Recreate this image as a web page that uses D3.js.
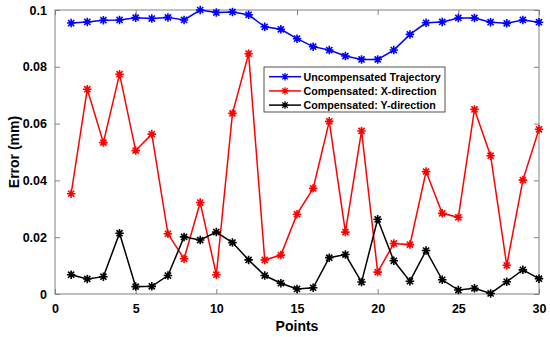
<!DOCTYPE html>
<html>
<head>
<meta charset="utf-8">
<script src="https://cdn.jsdelivr.net/npm/d3@7"></script>
<style>
  body { margin: 0; background: #fff; }
  svg { display: block; font-family: "Liberation Sans", Arial, sans-serif; font-weight: bold; }
</style>
</head>
<body>
<svg id="chart" width="550" height="337"></svg>
<script>
//
// Data
//
var points = d3.range(1, 31);

var uncompensated = [0.0954, 0.0958, 0.0964, 0.0965, 0.0973, 0.0970, 0.0974, 0.0965, 0.1000, 0.0991,
                     0.0993, 0.0983, 0.0941, 0.0932, 0.0899, 0.0871, 0.0859, 0.0838, 0.0826, 0.0826,
                     0.0859, 0.0914, 0.0955, 0.0958, 0.0972, 0.0972, 0.0957, 0.0953, 0.0965, 0.0957];

var compX = [0.0353, 0.0721, 0.0533, 0.0774, 0.0505, 0.0563, 0.0212, 0.0124, 0.0322, 0.0068,
             0.0636, 0.0846, 0.0120, 0.0137, 0.0281, 0.0372, 0.0608, 0.0218, 0.0574, 0.0077,
             0.0178, 0.0174, 0.0431, 0.0284, 0.0270, 0.0650, 0.0487, 0.0101, 0.0401, 0.0580];

var compY = [0.0068, 0.0053, 0.0061, 0.0214, 0.0026, 0.0027, 0.0065, 0.0201, 0.0190, 0.0218,
             0.0181, 0.0120, 0.0065, 0.0038, 0.0018, 0.0022, 0.0128, 0.0139, 0.0042, 0.0263,
             0.0117, 0.0045, 0.0153, 0.0050, 0.0014, 0.0020, 0.0002, 0.0043, 0.0085, 0.0054];

var seriesNames = ['Uncompensated Trajectory', 'Compensated: X-direction', 'Compensated: Y-direction'];
var seriesColors = ['#0000ff', '#ff0000', '#000000'];

var xTicks = [0, 5, 10, 15, 20, 25, 30];
var yTicks = [0, 0.02, 0.04, 0.06, 0.08, 0.1];

//
// Layout
//
var margin = {top: 10, right: 11, bottom: 43, left: 55};
var width = 550 - margin.left - margin.right,
    height = 337 - margin.top - margin.bottom;
var axisColor = '#808080';

var svg = d3.select('#chart');
var g = svg.append('g').attr('transform', 'translate(' + margin.left + ',' + margin.top + ')');

var x = d3.scaleLinear().domain([0, 30]).range([0, width]);
var y = d3.scaleLinear().domain([0, 0.1]).range([height, 0]);

// MATLAB style '*' marker: plus + cross
var star = {
    draw: function (context, size) {
        var r = Math.sqrt(size) / 2, d = r * 0.72;
        context.moveTo(-r, 0); context.lineTo(r, 0);
        context.moveTo(0, -r); context.lineTo(0, r);
        context.moveTo(-d, -d); context.lineTo(d, d);
        context.moveTo(-d, d); context.lineTo(d, -d);
    }
};
var marker = d3.symbol().type(star).size(72);

//
// Axes (box with inward ticks)
//
function styleAxis(sel, labels) {
    sel.select('.domain').remove();
    sel.selectAll('.tick line').attr('stroke', axisColor);
    sel.selectAll('.tick text')
        .attr('fill', labels ? '#000' : 'none')
        .style('font-size', '12.5px')
        .style('font-weight', 'bold');
}

var fmtY = function (d) { return d === 0 ? '0' : d3.format('')(+d.toFixed(2)); };

g.append('g').attr('transform', 'translate(0,' + height + ')')
    .call(d3.axisBottom(x).tickValues(xTicks).tickSizeInner(-5).tickSizeOuter(0).tickPadding(10))
    .call(styleAxis, true);
g.append('g')
    .call(d3.axisTop(x).tickValues(xTicks).tickSizeInner(-5).tickSizeOuter(0).tickFormat(''))
    .call(styleAxis, false);
g.append('g')
    .call(d3.axisLeft(y).tickValues(yTicks).tickSizeInner(-5).tickSizeOuter(0).tickPadding(8).tickFormat(fmtY))
    .call(styleAxis, true);
g.append('g').attr('transform', 'translate(' + width + ',0)')
    .call(d3.axisRight(y).tickValues(yTicks).tickSizeInner(-5).tickSizeOuter(0).tickFormat(''))
    .call(styleAxis, false);

g.append('rect')
    .attr('width', width).attr('height', height)
    .attr('fill', 'none').attr('stroke', axisColor).attr('stroke-width', 1);

//
// Series
//
var line = d3.line()
    .x(function (d, i) { return x(points[i]); })
    .y(function (d) { return y(d); });

[uncompensated, compX, compY].forEach(function (values, k) {
    var s = g.append('g');
    s.append('path')
        .attr('d', line(values))
        .attr('fill', 'none')
        .attr('stroke', seriesColors[k])
        .attr('stroke-width', 1.5);
    s.selectAll('path.m')
        .data(values)
        .enter()
        .append('path')
        .attr('class', 'm')
        .attr('transform', function (d, i) { return 'translate(' + x(points[i]) + ',' + y(d) + ')'; })
        .attr('d', marker)
        .attr('stroke', seriesColors[k])
        .attr('stroke-width', 1.6)
        .attr('fill', 'none');
});

//
// Axis titles
//
svg.append('text')
    .attr('x', margin.left + width / 2)
    .attr('y', 331)
    .attr('text-anchor', 'middle')
    .style('font-size', '14px')
    .text('Points');

svg.append('text')
    .attr('transform', 'translate(19,' + (margin.top + height / 2) + ') rotate(-90)')
    .attr('text-anchor', 'middle')
    .style('font-size', '14px')
    .text('Error (mm)');

//
// Legend
//
var legend = svg.append('g').attr('transform', 'translate(264,67)');
legend.append('rect')
    .attr('width', 181).attr('height', 45)
    .attr('fill', '#fff').attr('stroke', '#262626').attr('stroke-width', 0.8);

var rows = legend.selectAll('g.row')
    .data(seriesNames)
    .enter()
    .append('g')
    .attr('class', 'row')
    .attr('transform', function (d, i) { return 'translate(0,' + (9.7 + i * 14.2) + ')'; });

rows.append('line')
    .attr('x1', 5).attr('x2', 37)
    .attr('stroke', function (d, i) { return seriesColors[i]; })
    .attr('stroke-width', 1.5);
rows.append('path')
    .attr('transform', 'translate(21,0)')
    .attr('d', d3.symbol().type(star).size(56))
    .attr('stroke', function (d, i) { return seriesColors[i]; })
    .attr('stroke-width', 1.3)
    .attr('fill', 'none');
rows.append('text')
    .attr('x', 39.5)
    .attr('dy', '0.36em')
    .style('font-size', '10.7px')
    .text(function (d) { return d; });
</script>
</body>
</html>
